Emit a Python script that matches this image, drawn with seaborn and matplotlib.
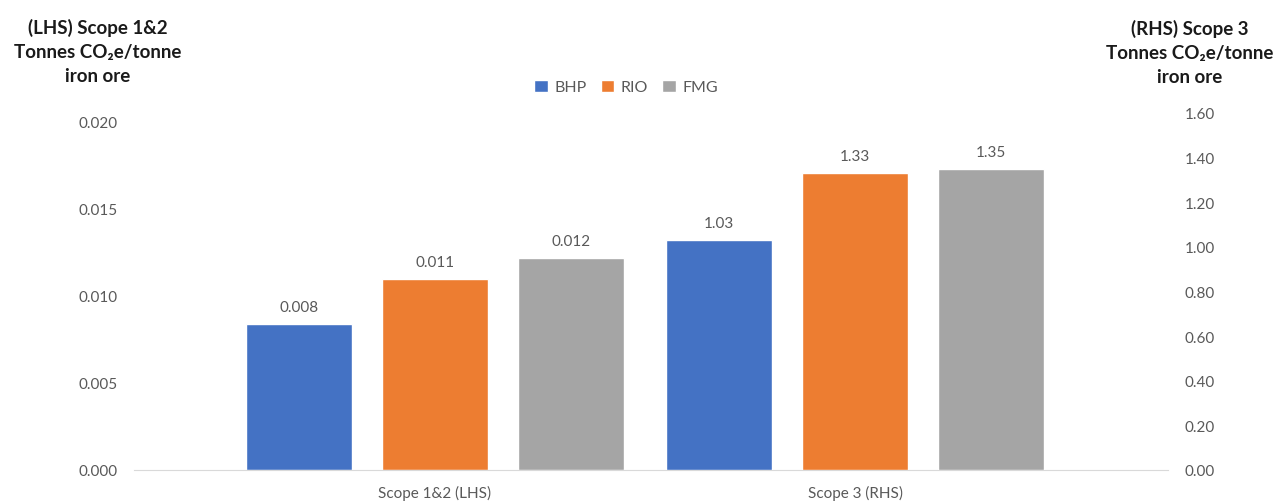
import pandas as pd
import matplotlib.pyplot as plt
import seaborn as sns

# data
categories = ['Scope 1&2 (LHS)', 'Scope 3 (RHS)']
companies = ['BHP', 'RIO', 'FMG']
scope12 = [0.0084, 0.0110, 0.0122]
scope3 = [1.03, 1.33, 1.35]
left_ticks = [0.000, 0.005, 0.010, 0.015, 0.020]
right_ticks = [0.00, 0.20, 0.40, 0.60, 0.80, 1.00, 1.20, 1.40, 1.60]
colors = ['#4472C4', '#ED7D31', '#A5A5A5']

sns.set_style('white')
plt.rcParams['font.family'] = ['Lato', 'DejaVu Sans']
grey = '#595959'

df12 = pd.DataFrame({'cat': categories[0], 'co': companies, 'val': scope12})
df3 = pd.DataFrame({'cat': categories[1], 'co': companies, 'val': scope3})

fig = plt.figure(figsize=(12.87, 5.02), dpi=100)
ax = fig.add_axes([0.1041, 0.0618, 0.8034, 0.7112])
ax2 = ax.twinx()

sns.barplot(data=df12, x='cat', y='val', hue='co', order=categories, hue_order=companies,
            palette=colors, width=0.97, gap=0.22, ax=ax, legend=False, saturation=1)
sns.barplot(data=df3, x='cat', y='val', hue='co', order=categories, hue_order=companies,
            palette=colors, width=0.97, gap=0.22, ax=ax2, legend=False, saturation=1)

# value labels
for c in ax.containers:
    ax.bar_label(c, fmt='%.3f', padding=7, color=grey, fontsize=11)
for c in ax2.containers:
    ax2.bar_label(c, fmt='%.2f', padding=7, color=grey, fontsize=11)

ax.set_ylim(0, 0.02 * 357 / 348)
ax2.set_ylim(0, 1.6)
ax.set_xlim(-0.715, 1.744)
ax2.set_xlim(-0.715, 1.744)

ax.set_yticks(left_ticks)
ax.set_yticklabels([f'{t:.3f}' for t in left_ticks])
ax2.set_yticks(right_ticks)
ax2.set_yticklabels([f'{t:.2f}' for t in right_ticks])

for a in (ax, ax2):
    a.set_xlabel('')
    a.set_ylabel('')
    for s in ['top', 'left', 'right']:
        a.spines[s].set_visible(False)
    a.spines['bottom'].set_color('#D9D9D9')
    a.tick_params(length=0, colors=grey, labelsize=11)
ax2.spines['bottom'].set_visible(False)
ax.tick_params(axis='y', pad=12)
ax2.tick_params(axis='y', pad=12)
ax.tick_params(axis='x', pad=11)

# legend
handles = [c.patches[0] for c in ax.containers]
fig.legend(handles, companies, loc='center', bbox_to_anchor=(626 / 1287, 1 - 88 / 502),
           ncol=3, frameon=False, fontsize=11.5, labelcolor=grey,
           handlelength=0.85, handleheight=0.85, handletextpad=0.4, columnspacing=0.9)

# axis titles
fig.text(98 / 1287, 1 - 52 / 502, '(LHS) Scope 1&2\nTonnes CO\u2082e/tonne\niron ore',
         ha='center', va='center', fontsize=13.5, fontweight='bold', linespacing=1.5,
         color='#1a1a1a')
fig.text(1190 / 1287, 1 - 53 / 502, '(RHS) Scope 3\nTonnes CO\u2082e/tonne\niron ore',
         ha='center', va='center', fontsize=13.5, fontweight='bold', linespacing=1.5,
         color='#1a1a1a')

fig.savefig('out.png', dpi=100)
